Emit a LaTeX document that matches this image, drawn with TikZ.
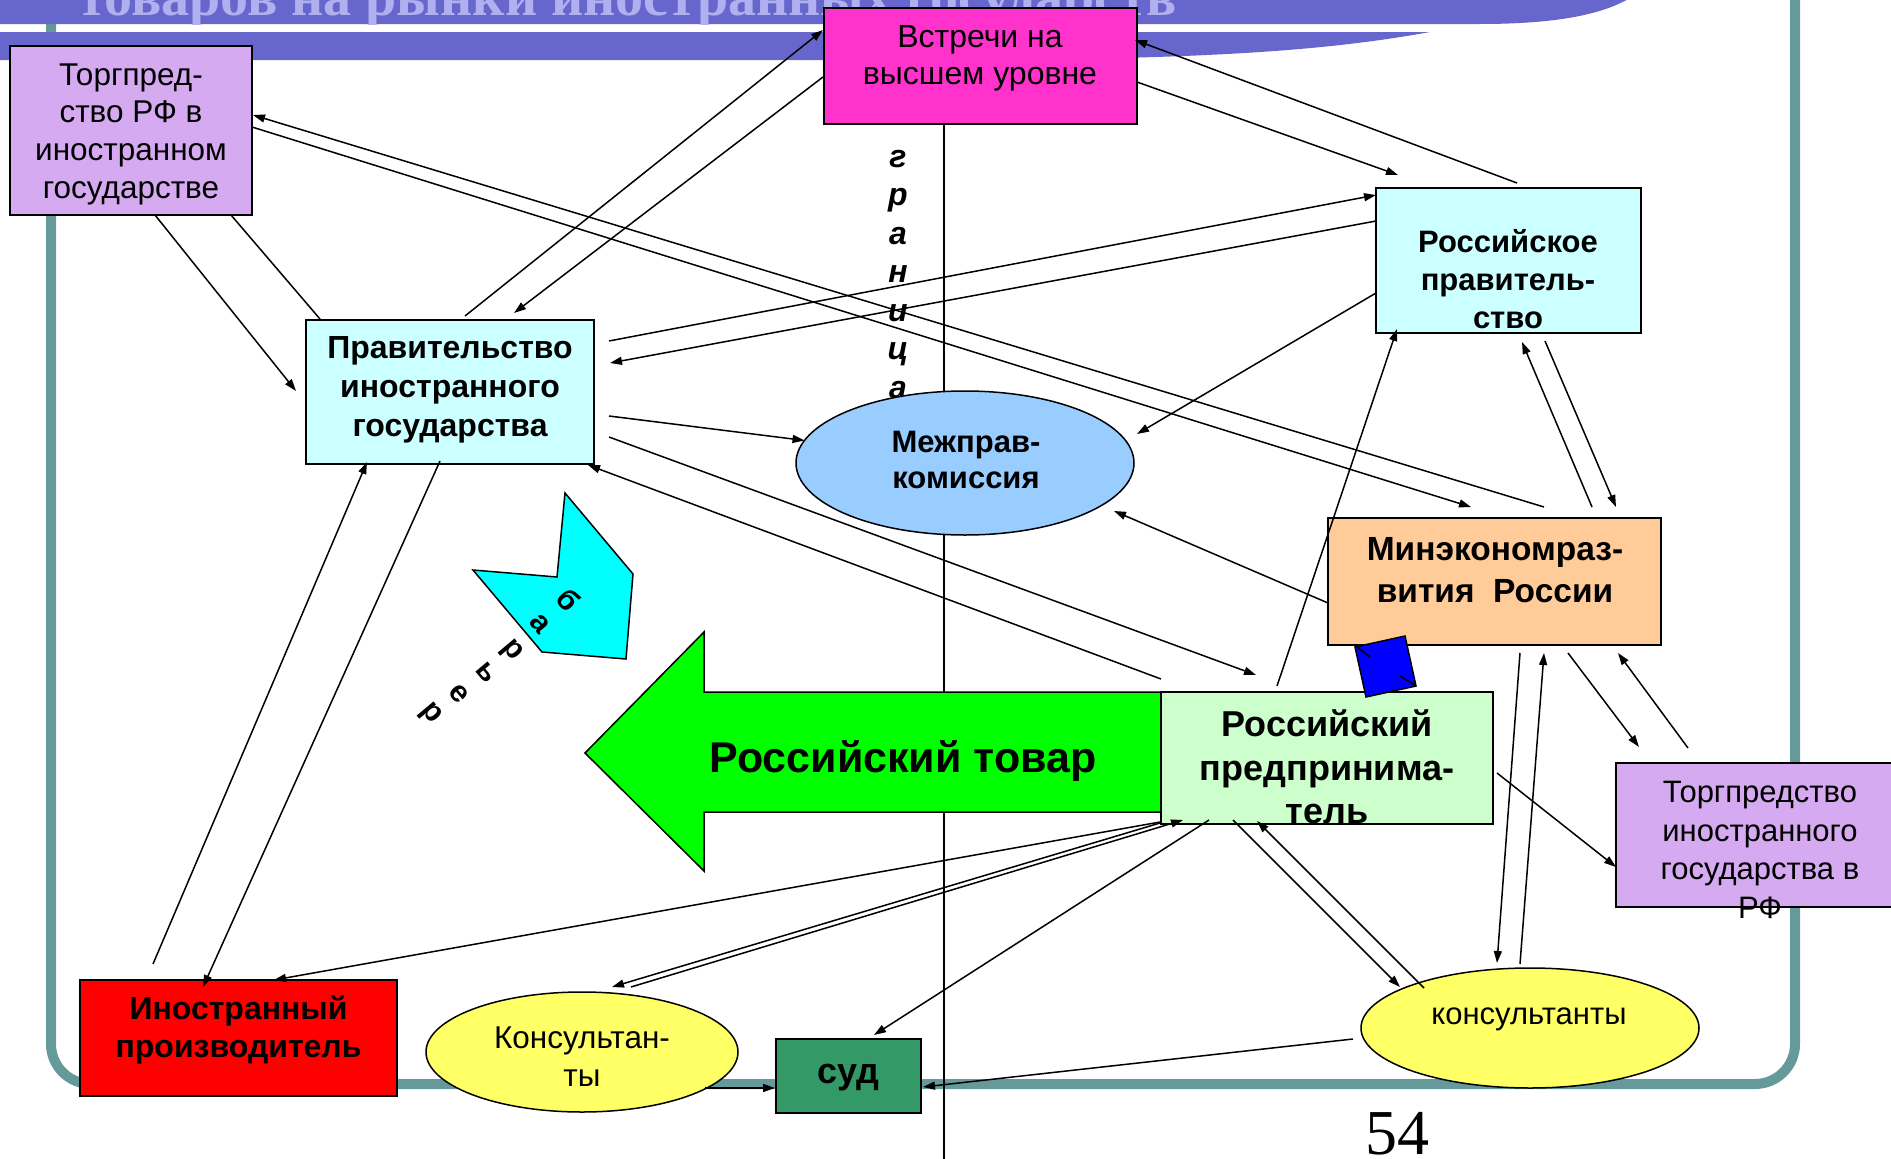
\documentclass[tikz,border=0pt]{standalone}
\usepackage{fontspec}
\setmainfont{Liberation Sans}
\newfontfamily\titlefont{Liberation Serif}
\usetikzlibrary{arrows.meta,calc,shapes.geometric}
\definecolor{bandc}{RGB}{102,102,204}
\definecolor{titlec}{RGB}{176,176,240}
\definecolor{framec}{RGB}{102,153,153}
\definecolor{lav}{RGB}{213,170,240}
\definecolor{lcyan}{RGB}{204,255,255}
\definecolor{lblue}{RGB}{153,204,255}
\definecolor{peach}{RGB}{255,204,153}
\definecolor{lgreen}{RGB}{204,255,204}
\definecolor{yell}{RGB}{255,255,102}
\definecolor{seag}{RGB}{51,153,102}
\definecolor{magen}{RGB}{255,51,204}
\definecolor{arrg}{RGB}{0,255,0}
\definecolor{barc}{RGB}{0,255,255}
\definecolor{sqb}{RGB}{0,0,255}
\definecolor{redc}{RGB}{255,0,0}
\begin{document}
\begin{tikzpicture}[x=1pt,y=-1pt,
  box/.style={draw=black,line width=1.5pt,inner sep=0pt,outer sep=0pt},
  ell/.style={box,ellipse},
  txt/.style={inner sep=0pt,outer sep=0pt,align=center},
  lin/.style={line width=1.5pt},
  con/.style={lin,-{Triangle[length=12pt,width=8pt]}}]
\useasboundingbox (0,0) rectangle (1891,1159);
\fill[white] (0,0) rectangle (1891,1159);
% frame
\draw[framec,line width=10pt,rounded corners=40pt] (51,-100) rectangle (1795,1084);
% title bands
\fill[bandc] (0,-2) -- (1630,-2) .. controls (1600,16) and (1550,24) .. (1480,24) -- (0,24) -- cycle;
\fill[bandc] (0,32) -- (1430,32) .. controls (1320,52) and (1200,58) .. (1000,60) -- (0,60) -- cycle;
\begin{scope}
\clip (0,0) rectangle (1700,24);
\node[txt,anchor=base west,text=titlec,font=\titlefont\bfseries\fontsize{56}{60}\selectfont] (title) at (78,15) {товаров на рынки иностранных государств};
\end{scope}
% nodes
\node[box,fill=magen,minimum width=313pt,minimum height=116pt] (meet) at (980.5,66) {};
\coordinate (gbot) at (944,1159);
\draw[line width=1.2pt] ($(meet.south)+(-36.5,0)$) -- (gbot);
% big arrow
\draw[lin,fill=arrg] (585,753) -- (704,632) -- (704,692) -- (1170,692) -- (1170,812) -- (704,812) -- (704,871) -- cycle;
\node[txt,anchor=base,font=\bfseries\fontsize{43}{50}\selectfont] (tovar) at (903,772) {Российский товар};
% barrier
\draw[lin,fill=barc] (565,493) -- (633,574) -- (626,659) -- (542,652) -- (473,570) -- (557,577) -- cycle;
\foreach \l/\x/\y [count=\i] in {б/569/600,а/540/624,р/511/651,ь/486/672,е/459/694,р/430/714}
  \node[txt,rotate=-50,font=\bfseries\fontsize{30}{36}\selectfont] (bar\i) at (\x,\y) {\l};
\foreach \l [count=\i from 0] in {г,р,а,н,и,ц,а}
  \node[txt,anchor=base,font=\bfseries\itshape\fontsize{32}{38}\selectfont] (gr\i) at (898,167+38.5*\i) {\l};

\node[box,fill=lav,minimum width=242pt,minimum height=169pt] (tpru) at (131,130.5) {};
\node[box,fill=lcyan,minimum width=265pt,minimum height=145pt] (rgov) at (1508.5,260.5) {};
\node[box,fill=lcyan,minimum width=288pt,minimum height=144pt] (fgov) at (450,392) {};
\node[ell,fill=lblue,minimum width=338pt,minimum height=144pt] (mkom) at (965,463) {};
\node[box,fill=peach,minimum width=333pt,minimum height=127pt] (mer) at (1494.5,581.5) {};
\node[box,fill=lgreen,minimum width=332pt,minimum height=132pt] (rbiz) at (1327,758) {};
\node[box,fill=lav,minimum width=284pt,minimum height=144pt] (tpfor) at (1758,835) {};
\node[box,fill=redc,minimum width=317pt,minimum height=116pt] (fprod) at (238.5,1038) {};
\node[ell,fill=yell,minimum width=312pt,minimum height=120pt] (kons1) at (582,1052) {};
\node[box,fill=seag,minimum width=145pt,minimum height=74pt] (sud) at (848.5,1076) {};
\node[ell,fill=yell,minimum width=338pt,minimum height=120pt] (kons2) at (1530,1028) {};

% texts
\node[txt,font=\fontsize{31.5}{37.7}\selectfont] (tpru-t) at (131,134) {Торгпред-\\ство РФ в\\иностранном\\государстве};
\node[txt,font=\fontsize{32}{37}\selectfont] (meet-t) at (980,58.5) {Встречи на\\высшем уровне};
\node[txt,font=\bfseries\fontsize{31}{38}\selectfont] (rgov-t) at (1508,279) {Российское\\правитель-\\ство};
\node[txt,font=\bfseries\fontsize{32}{39}\selectfont] (fgov-t) at (450,390) {Правительство\\иностранного\\государства};
\node[txt,font=\bfseries\fontsize{31}{36}\selectfont] (mkom-t) at (966,460) {Межправ-\\комиссия};
\node[txt,font=\bfseries\fontsize{33.5}{42}\selectfont] (mer-t) at (1495,570) {Минэкономраз-\\вития\ \ России};
\node[txt,font=\bfseries\fontsize{36}{43.5}\selectfont] (rbiz-t) at (1327,767) {Российский\\предпринима-\\тель};
\node[txt,font=\fontsize{31}{38.5}\selectfont] (tpfor-t) at (1760,850) {Торгпредство\\иностранного\\государства в\\РФ};
\node[txt,font=\bfseries\fontsize{32}{38}\selectfont] (fprod-t) at (238.5,1030) {Иностранный\\производитель};
\node[txt,font=\fontsize{31.5}{38}\selectfont] (kons1-t) at (582,1057) {Консультан-\\ты};
\node[txt,anchor=base,font=\bfseries\fontsize{36}{40}\selectfont] (sud-t) at (848,1083) {суд};
\node[txt,anchor=base,font=\fontsize{31}{36}\selectfont] (kons2-t) at (1529,1024) {консультанты};
\node[txt,anchor=base,font=\titlefont\fontsize{64}{70}\selectfont] (page) at (1397,1154) {54};

% connectors
\draw[con] ($(tpru.south west)+(145,0)$) -- ($(fgov.west)+(-10,-1)$);
\draw[lin] ($(tpru.south west)+(221,0)$) -- ($(fgov.north west)+(14,-1)$);
\draw[con] ($(mer.north west)+(216,-11)$) -- ($(tpru.east)+(1,-15.5)$);
\draw[con] ($(tpru.east)+(0,-3.5)$) -- ($(mer.north west)+(143,-11)$);
\draw[con] ($(fgov.north west)+(159,-4)$) -- ($(meet.west)+(-1,-36)$);
\draw[con] ($(meet.west)+(-1,11)$) -- ($(fgov.north west)+(208,-7)$);
\draw[con] ($(meet.east)+(0,16)$) -- ($(rgov.north west)+(22,-13)$);
\draw[con] ($(rgov.north west)+(141,-5)$) -- ($(meet.east)+(-2,-26)$);
\draw[con] ($(fgov.north east)+(15,21)$) -- ($(rgov.north west)+(0,7)$);
\draw[con] ($(rgov.north west)+(0,33)$) -- ($(fgov.north east)+(16,43)$);
\draw[con] ($(fgov.east)+(15,24)$) -- (mkom.172);
\draw[con] ($(rgov.north west)+(0,105)$) -- ($(mkom.east)+(3,-29)$);
\draw[con] ($(mer.west)+(0,21.5)$) -- ($(mkom.east)+(-20,48)$);
\draw[con] ($(fgov.east)+(15,45)$) -- ($(rbiz.north west)+(95,-17)$);
\draw[con] ($(rbiz.north west)+(0,-13)$) -- ($(fgov.south east)+(-6,1)$);
\draw[con] ($(fprod.north west)+(73,-16)$) -- ($(fgov.south west)+(61,-2)$);
\draw[con] ($(fgov.south west)+(134,-3)$) -- ($(fprod.north west)+(123,7)$);
\draw[con] ($(rbiz.north west)+(116,-6)$) -- ($(rgov.south west)+(21,-4)$);
\draw[con] ($(mer.north west)+(264,-11)$) -- ($(rgov.south west)+(146,9)$);
\draw[con] ($(rgov.south west)+(169,8)$) -- ($(mer.north west)+(288,-11)$);
\draw[con] ($(mer.south west)+(240,8)$) -- ($(tpfor.north west)+(23,-16)$);
\draw[con] ($(tpfor.north west)+(72,-15)$) -- ($(mer.south west)+(290,8)$);
\draw[con] ($(mer.south west)+(192,8)$) -- ($(kons2.north)+(-33,-5)$);
\draw[con] ($(kons2.north)+(-10,-4)$) -- ($(mer.south west)+(216,8)$);
\draw[con] ($(rbiz.east)+(4,15)$) -- ($(tpfor.west)+(0,32)$);
\draw[con] ($(rbiz.south west)+(72,-4)$) -- ($(kons2.center)+(-130,-41)$);
\draw[con] ($(kons2.center)+(-106,-40)$) -- ($(rbiz.south west)+(96,-3)$);
\draw[con] ($(rbiz.south west)+(48,-4)$) -- ($(sud.north west)+(98,-4)$);
\draw[con] ($(kons2.west)+(-8,11)$) -- ($(sud.east)+(2,11)$);
\draw[con] ($(kons1.center)+(123,36)$) -- ($(sud.west)+(-1,12)$);
\draw[con] ($(rbiz.south west)+(-1,-1)$) -- ($(kons1.center)+(30,-65)$);
\draw[con] ($(kons1.center)+(49,-65)$) -- ($(rbiz.south west)+(22,-4)$);
\draw[con] ($(rbiz.south west)+(-1,-2)$) -- ($(fprod.north west)+(194,0)$);

% blue square
\draw[lin,fill=sqb] (1355,647) -- (1405,636) -- (1416,686) -- (1366,697) -- cycle;
\draw[lin] (1357,647) -- (1370,657);
\draw[lin] (1400,676) -- (1415,685);
\end{tikzpicture}
\end{document}
